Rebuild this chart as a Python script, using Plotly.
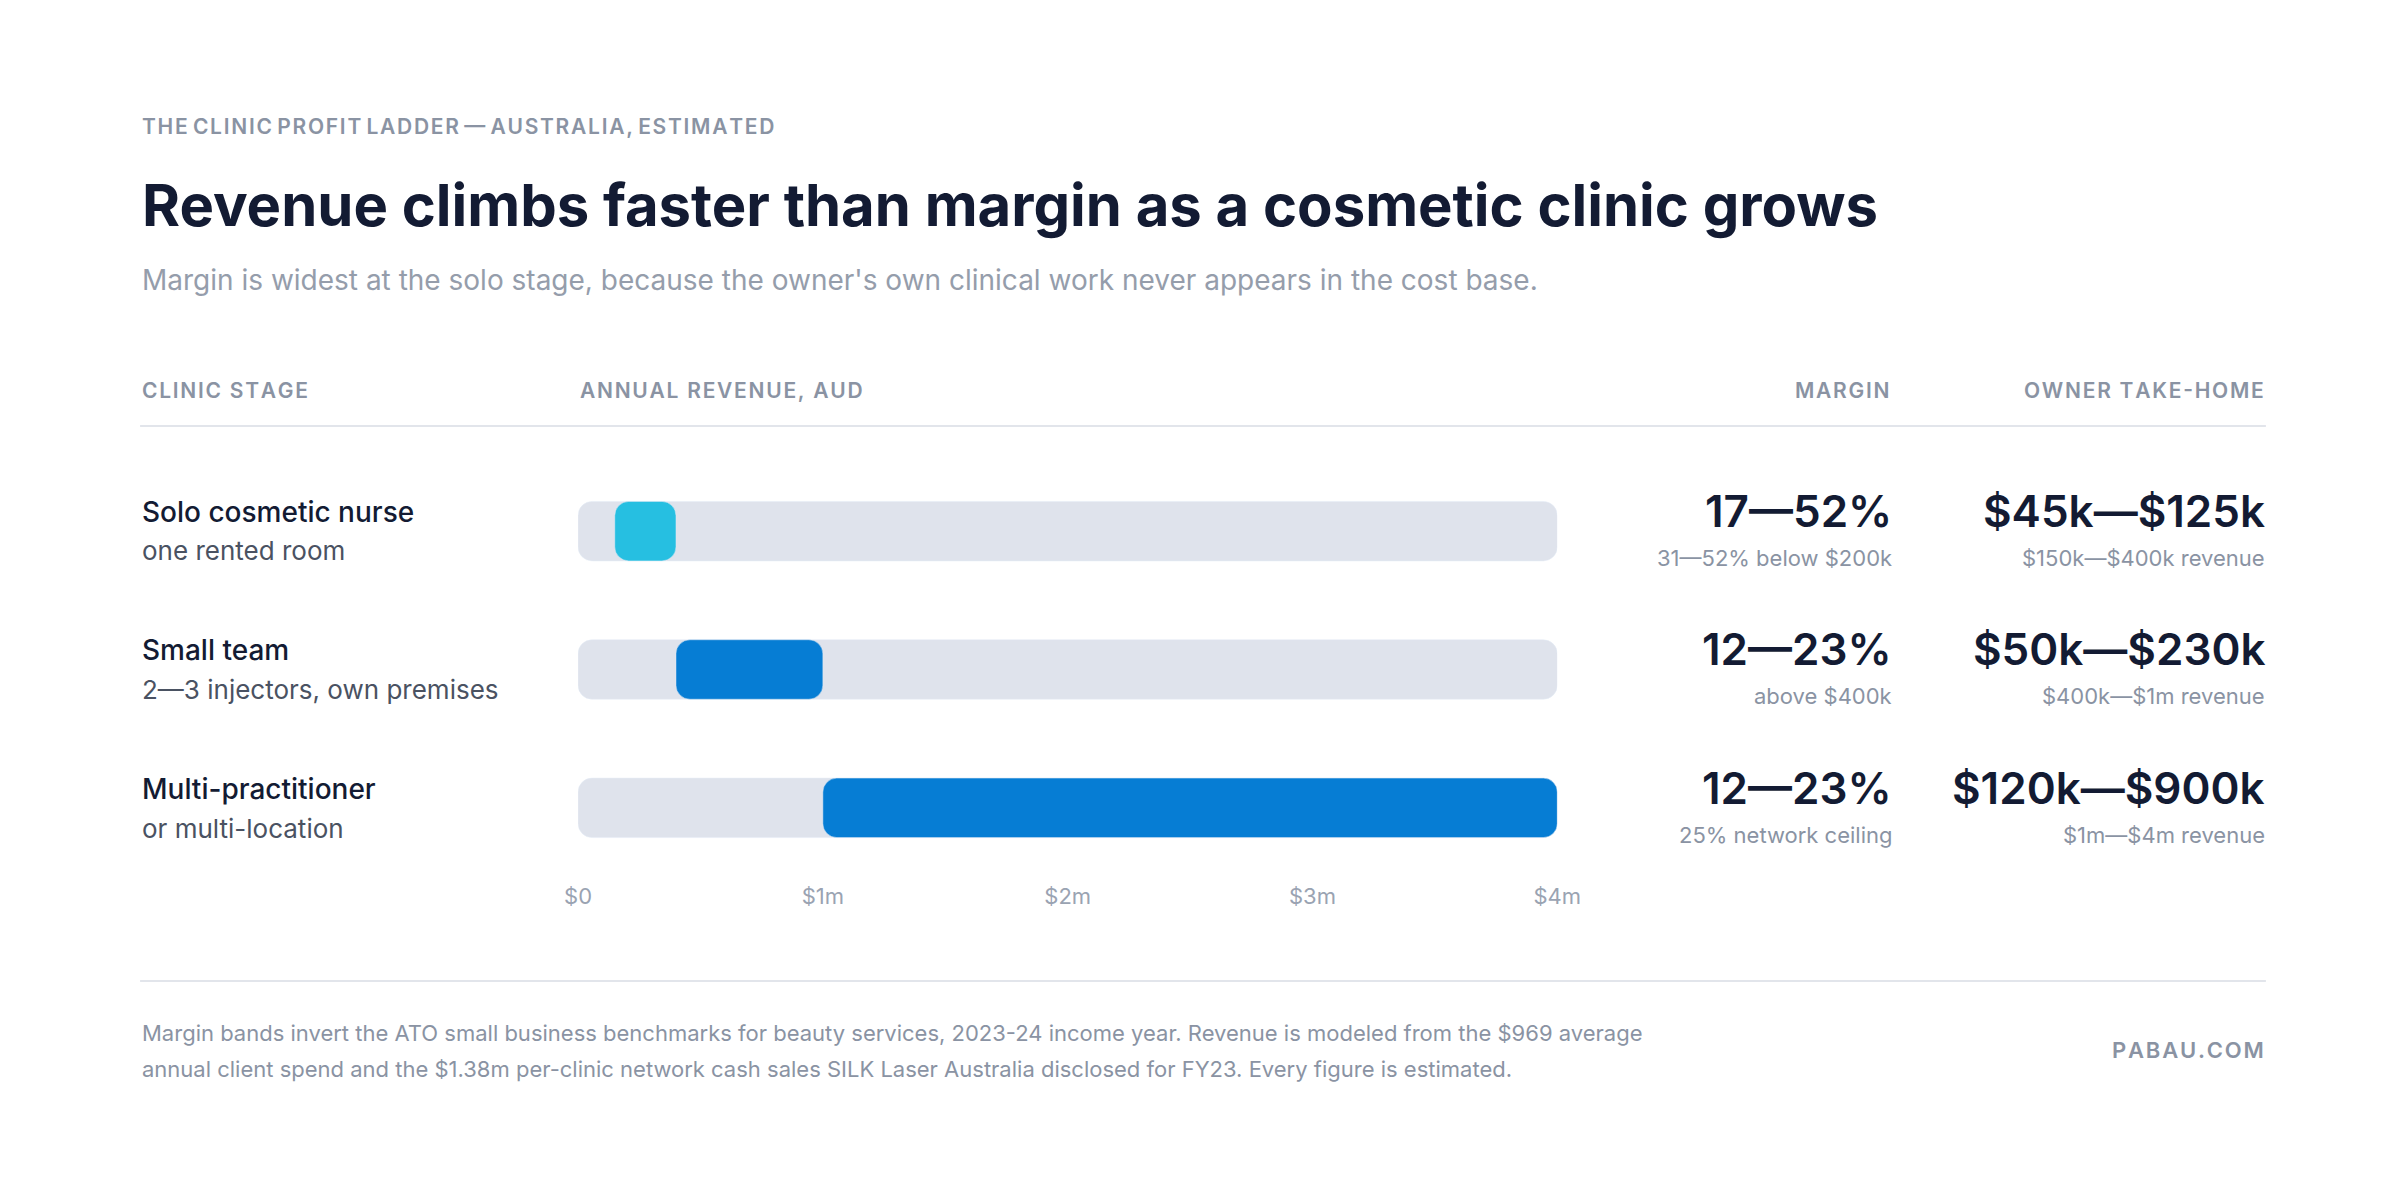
import plotly.graph_objects as go

W, H = 2400, 1190
stages = ["Solo cosmetic nurse", "Small team", "Multi-practitioner"]
stage_notes = ["one rented room", "2—3 injectors, own premises", "or multi-location"]
rev_low = [0.15, 0.4, 1.0]
rev_high = [0.4, 1.0, 4.0]
bar_colors = ["#26BFE1", "#067DD4", "#067DD4"]
margins = ["17—52%", "12—23%", "12—23%"]
margin_notes = ["31—52% below $200k", "above $400k", "25% network ceiling"]
takehome = ["$45k—$125k", "$50k—$230k", "$120k—$900k"]
takehome_notes = ["$150k—$400k revenue", "$400k—$1m revenue", "$1m—$4m revenue"]
tick_vals = [0, 1, 2, 3, 4]
tick_text = ["$0", "$1m", "$2m", "$3m", "$4m"]
axis_max = 4.0

FONT = "Inter"
DARK = "#131B33"
GRAY = "#8A93A3"
ys = list(range(len(stages)))

fig = go.Figure()
fig.add_trace(go.Bar(y=ys, x=[axis_max] * 3, base=[0] * 3, orientation="h",
                     marker=dict(color="#DFE3EC", cornerradius=14), width=0.43,
                     hoverinfo="skip", showlegend=False))
fig.add_trace(go.Bar(y=ys, x=[h - l for l, h in zip(rev_low, rev_high)], base=rev_low,
                     orientation="h", marker=dict(color=bar_colors, cornerradius=14),
                     width=0.43, showlegend=False))

def px(x): return x / W
def py(y): return 1 - y / H

ann = []
def txt(x, y, s, size, color, anchor="left", weight=400, spacing=None):
    ann.append(dict(x=px(x), y=py(y), xref="paper", yref="paper", text=s, showarrow=False,
                    xanchor=anchor, yanchor="middle",
                    font=dict(family=FONT, size=size, color=color, weight=weight)))

txt(120, 119, "T H E  C L I N I C  P R O F I T  L A D D E R  —  A U S T R A L I A ,  E S T I M A T E D".replace("  ", "\u2009 ").replace(" ", "\u200a"), 21, GRAY, weight=600)
txt(120, 197, "Revenue climbs faster than margin as a cosmetic clinic grows", 58, DARK, weight=700)
txt(120, 272, "Margin is widest at the solo stage, because the owner's own clinical work never appears in the cost base.", 28, "#959DAB")

def spaced(s): return "\u200a".join(list(s))
txt(120, 383, spaced("CLINIC STAGE"), 21, GRAY, weight=600)
txt(565, 383, spaced("ANNUAL REVENUE, AUD"), 21, GRAY, weight=600)
txt(1900, 383, spaced("MARGIN"), 21, GRAY, "right", 600)
txt(2280, 383, spaced("OWNER TAKE-HOME"), 21, GRAY, "right", 600)

centers = [523, 661, 800]
for i, c in enumerate(centers):
    txt(120, c - 19, stages[i], 28, DARK, weight=500)
    txt(120, c + 20, stage_notes[i], 26, "#4A5262")
    txt(1902, c - 20, margins[i], 44, DARK, "right", 600)
    txt(1902, c + 27, margin_notes[i], 22, GRAY, "right")
    txt(2281, c - 20, takehome[i], 44, DARK, "right", 600)
    txt(2281, c + 27, takehome_notes[i], 22, GRAY, "right")

txt(120, 1025, "Margin bands invert the ATO small business benchmarks for beauty services, 2023-24 income year. Revenue is modeled from the $969 average", 22, GRAY)
txt(120, 1061, "annual client spend and the $1.38m per-clinic network cash sales SILK Laser Australia disclosed for FY23. Every figure is estimated.", 22, GRAY)
txt(2280, 1042, spaced("PABAU.COM"), 22, GRAY, "right", 600)

shapes = [
    dict(type="line", xref="paper", yref="paper", x0=px(120), x1=px(2280), y0=py(418), y1=py(418),
         line=dict(color="#E2E5EB", width=2)),
    dict(type="line", xref="paper", yref="paper", x0=px(120), x1=px(2280), y0=py(973), y1=py(973),
         line=dict(color="#E2E5EB", width=2)),
]

fig.update_layout(
    width=W, height=H, margin=dict(l=0, r=0, t=0, b=0),
    paper_bgcolor="white", plot_bgcolor="white", barmode="overlay",
    annotations=ann, shapes=shapes,
    xaxis=dict(domain=[px(565), px(1560)], range=[0, axis_max], tickvals=tick_vals,
               ticktext=tick_text, showgrid=False, zeroline=False, showline=False,
               tickfont=dict(family=FONT, size=22, color="#9AA3B2"), ticklabelstandoff=4),
    yaxis=dict(domain=[py(869), py(454)], range=[2.5, -0.5], visible=False),
)
fig.write_html("out.html")
